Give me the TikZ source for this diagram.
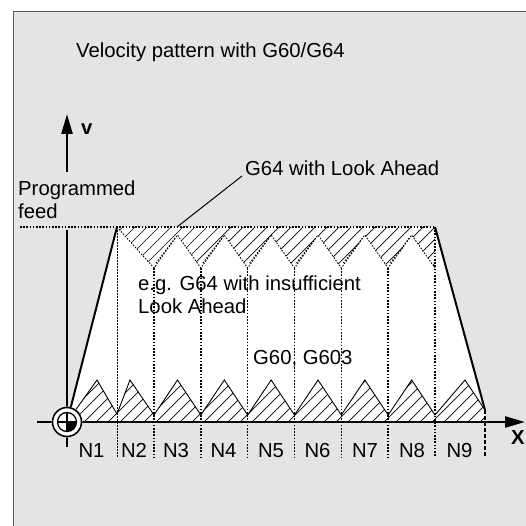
\documentclass[tikz,border=0pt]{standalone}
\usepackage{fontspec}
\setmainfont{Liberation Sans}
\usetikzlibrary{arrows.meta}
\definecolor{panelgray}{HTML}{E4E4E4}
\definecolor{framegray}{HTML}{5A5A5A}
\tikzset{
  lbl/.style={font=\fontsize{20.3}{23}\selectfont,inner sep=0pt,anchor=base west},
  nlbl/.style={font=\fontsize{20.3}{23}\selectfont,inner sep=0pt,anchor=base},
  axisarrow/.style={line width=2.5pt,-{Triangle[length=20pt,width=11pt]}},
  ramp/.style={line width=2pt},
  dotline/.style={line width=1.6pt,dash pattern=on 1.6pt off 1.6pt},
  thindot/.style={line width=0.9pt,dash pattern=on 1.5pt off 1.5pt},
  zig/.style={line width=0.9pt},
  hatch/.style={line width=0.7pt},
}
\begin{document}
\begin{tikzpicture}[x=1pt,y=-1pt]
\useasboundingbox (0,0) rectangle (526,526);
\clip (0,0) rectangle (526,526);
\fill[white] (0,0) rectangle (526,526);
\draw[framegray,fill=panelgray,line width=1pt] (13,12) rectangle (560,560);
% white velocity area
\fill[white] (67,422) -- (117,227) -- (435,227) -- (485,410) -- (485,422) -- cycle;
% hatching, G64 with insufficient look ahead
\begin{scope}
\clip (117,227) \foreach \k in {0,...,5} { -- ({154+46.83*\k},268) -- ({177.5+46.83*\k},235)} -- (435,268) -- (435,227) -- cycle;
\foreach \c in {-300,-288,...,600} \draw[hatch] (\c,470) -- (\c+300,170);
\end{scope}
% hatching, G60/G603
\begin{scope}
\clip (67,422) -- (97,380) -- (117,414) -- (130,380) -- (154,415) \foreach \k in {0,...,5} { -- ({177.5+46.83*\k},380) -- ({200.8+46.83*\k},415)} -- (465,380) -- (485,410) -- (485,422) -- cycle;
\foreach \c in {-300,-288,...,600} \draw[hatch] (\c,470) -- (\c+300,170);
\end{scope}
% zigzags
\draw[thindot] (117,227) \foreach \k in {0,...,5} { -- ({154+46.83*\k},268) -- ({177.5+46.83*\k},235)} -- (435,268);
\foreach \k in {0,...,5} \draw[thindot] ({156+46.83*\k},263) -- ({176+46.83*\k},237);
\draw[zig] (67,422) -- (97,380) -- (117,414) -- (130,380) -- (154,415) \foreach \k in {0,...,5} { -- ({177.5+46.83*\k},380) -- ({200.8+46.83*\k},415)} -- (465,380) -- (485,410);
% block boundaries
\draw[thindot] (117,227) -- (117,457);
\foreach \k in {0,...,5} \draw[dotline] ({154+46.83*\k},268) -- ({154+46.83*\k},457);
\draw[dotline] (435,227) -- (435,457);
\draw[line width=1.6pt,dash pattern=on 4pt off 2pt] (485,410) -- (485,457);
% programmed feed and ramps
\draw[dotline] (20,227) -- (435,227);
\draw[ramp] (67,422) -- (117,227);
\draw[ramp] (435,227) -- (485,410);
% axes
\draw[axisarrow] (37,422) -- (525,422);
\draw[line width=2.5pt] (67,447) -- (67,230);
\draw[axisarrow] (67,172) -- (67,114);
% origin symbol
\fill[white] (67,422) circle (15.5);
\draw[line width=1.6pt] (67,422) circle (14.5);
\draw[line width=1.3pt] (67,422) circle (9.5);
\fill (67,422) -- ++(9.5,0) arc[start angle=0,end angle=90,radius=9.5] -- cycle;
\draw[line width=1.3pt] (57,422) -- (77,422) (67,412) -- (67,432);
% labels
\node[lbl] (title) at (76,58) {Velocity pattern with G60/G64};
\node[lbl,font=\fontsize{20.3}{23}\selectfont\bfseries] (vlbl) at (81,135) {v};
\node[lbl,font=\fontsize{20.3}{23}\selectfont\bfseries] (xlbl) at (511,444) {X};
\node[lbl,anchor=north west,align=left] (feed) at (18,181) {Programmed\\feed};
\node[lbl] (lookahead) at (245,176) {G64 with Look Ahead};
\coordinate (lapt) at (177,227);
\draw[line width=1pt] ([xshift=-3pt]lookahead.base west) -- (lapt);
\node[lbl,anchor=north west,align=left] (insuff) at (138,275.5) {e.g. G64 with insufficient\\Look Ahead};
\node[lbl] (g60) at (253,364) {G60, G603};
\foreach \n/\x in {1/91.5,2/134,3/176,4/223.5,5/271,6/317.5,7/365,8/412,9/459.5}
  \node[nlbl] (n\n) at (\x,457) {N\n};
\end{tikzpicture}
\end{document}
